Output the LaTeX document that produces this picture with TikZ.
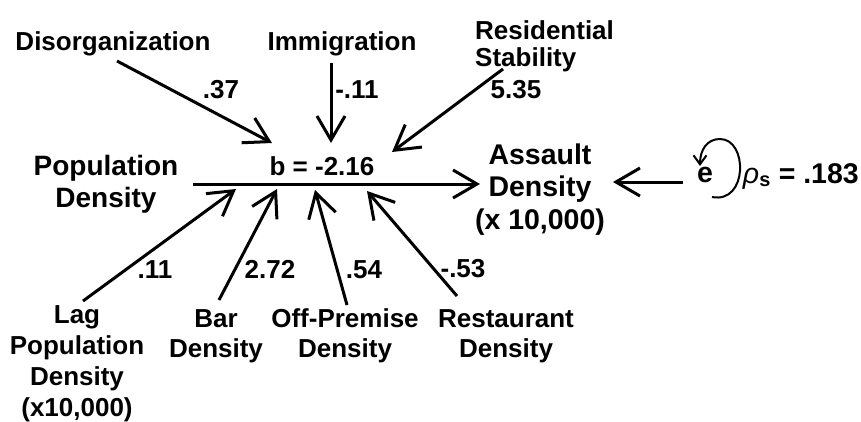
\documentclass[tikz,border=0pt]{standalone}
\usepackage{fontspec}
\setmainfont{Liberation Sans}
\usetikzlibrary{arrows.meta}
\begin{document}
\begin{tikzpicture}[x=1pt,y=-1pt,
  lbl/.style={font=\fontsize{26}{31}\selectfont\bfseries, inner sep=0pt, align=center, anchor=base},
  big/.style={font=\fontsize{28.5}{32.5}\selectfont\bfseries},
  conn/.style={line width=3pt, -{Straight Barb[length=24pt,width=28pt,line width=3pt]}},
  loopline/.style={line width=2pt, -{Straight Barb[length=9pt,width=13pt,line width=2pt]}},
]
\useasboundingbox (0,0) rectangle (861,421);
% nodes (multi-line nodes: base = baseline of last line)
\node[lbl] (dis) at (113,50) {Disorganization};
\node[lbl] (imm) at (342,50) {Immigration};
\node[lbl, align=left, anchor=base west, font=\fontsize{26}{27}\selectfont\bfseries] (res) at (475,66) {Residential\\Stability};
\node[lbl, big, font=\fontsize{28}{32}\selectfont\bfseries] (popd) at (106,207) {Population\\Density};
\node[lbl] (b) at (322,175) {b = -2.16};
\node[lbl, big] (ass) at (540,229) {Assault\\Density\\(x 10,000)};
\node[lbl, big] (e) at (705,182) {e};
\node[lbl, big, anchor=base east] (rho) at (859,183) {{\mdseries\itshape ρ}\textsubscript{s} = .183};
\node[lbl] (lag) at (77,416) {Lag\\Population\\Density\\(x10,000)};
\node[lbl, font=\fontsize{26}{30}\selectfont\bfseries] (bar) at (216,357) {Bar\\Density};
\node[lbl, font=\fontsize{26}{30}\selectfont\bfseries] (off) at (345,357) {Off-Premise\\Density};
\node[lbl, font=\fontsize{26}{30}\selectfont\bfseries] (rest) at (506,357) {Restaurant\\Density};
% coefficient labels
\node[lbl] (c1) at (221,98) {.37};
\node[lbl] (c2) at (357,98) {-.11};
\node[lbl] (c3) at (516,98) {5.35};
\node[lbl] (c4) at (155,278) {.11};
\node[lbl] (c5) at (270,278) {2.72};
\node[lbl] (c6) at (364,278) {.54};
\node[lbl] (c7) at (463,277) {-.53};
% endpoints
\coordinate (disS) at (117,61);  \coordinate (disT) at (272,143);
\coordinate (immS) at (331,63);  \coordinate (immT) at (331,143);
\coordinate (resS) at (503,69);  \coordinate (resT) at (392,152);
\coordinate (lagS) at (83,301);  \coordinate (lagT) at (236,189);
\coordinate (barS) at (219,300); \coordinate (barT) at (277,189);
\coordinate (offS) at (347,305); \coordinate (offT) at (315,190);
\coordinate (restS) at (457,296);\coordinate (restT) at (367,191);
\coordinate (mainS) at (193,184);\coordinate (mainT) at (480,184);
\coordinate (eS) at (683,182);   \coordinate (eT) at (613,182);
% connectors
\draw[conn] (disS) -- (disT);
\draw[conn] (immS) -- (immT);
\draw[conn] (resS) -- (resT);
\draw[conn] (lagS) -- (lagT);
\draw[conn] (barS) -- (barT);
\draw[conn] (offS) -- (offT);
\draw[conn] (restS) -- (restT);
\draw[conn] (mainS) -- (mainT);
\draw[conn] (eS) -- (eT);
% self loop around e
\draw[loopline] (712,197) .. controls (748,204) and (748,139) .. (720,139) .. controls (707,139) and (700,150) .. (700,166);
\end{tikzpicture}
\end{document}
